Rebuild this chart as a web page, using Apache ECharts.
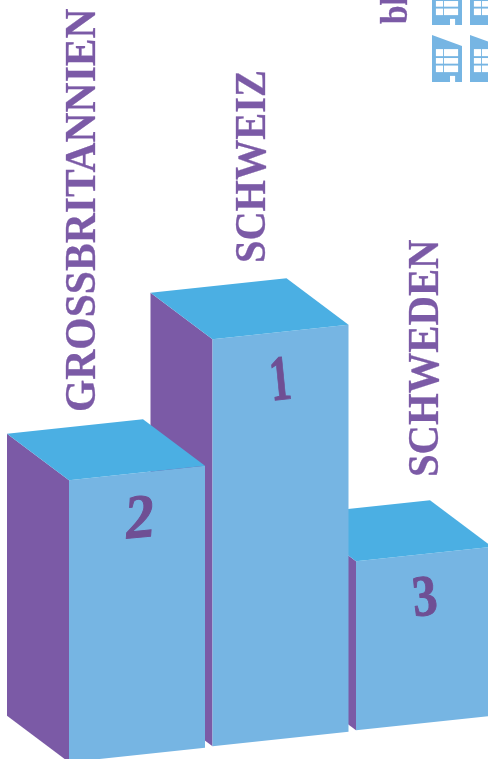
<!DOCTYPE html>
<html>
<head>
<meta charset="utf-8">
<style>html,body{margin:0;padding:0;background:#fff;overflow:hidden}#chart{width:488px;height:759px}</style>
<script src="https://cdn.jsdelivr.net/npm/echarts@6/dist/echarts.min.js"></script>
</head>
<body>
<div id="chart"></div>
<script>
// Podium values
const countries = ['GROSSBRITANNIEN', 'SCHWEIZ', 'SCHWEDEN'];
const heights = [282, 407, 169];
const ranks = ['2', '1', '3'];
const paintOrder = [2, 1, 0];

// Building pictogram rows, counted in whole icons
const iconsPerRow = [2, 2];

const SIDE = '#7b5aa6', FRONT = '#76b5e3', TOP = '#4bafe3', RANK = '#6f4f94';
const SERIF = '"Liberation Serif", serif';

// Oblique projection of the boxes
const barWidth = 136, depthX = 62, depthY = 46.5, edgeSlope = 14.5 / 136, floorRise = 16 / 144;

// Caption and numeral placement relative to each box's front-top centre
const captionOffset = [[-76.5, -61], [-49.5, -69], [-20.5, -77]];
const captionStretch = [0.924, 0.897, 0.905];
const rankOffset = [[3, 48], [0, 51], [1, 46]];
const rankSize = [62, 64, 58];
const rankStretch = [0.95, 0.66, 0.85];

function renderBox(params, api) {
  const i = api.value(0);
  const top = api.coord([i, api.value(1)]);
  const base = api.coord([i, 0]);
  const cx = top[0];
  const shift = (281 - cx) * floorRise;
  const x0 = cx - barWidth / 2, x1 = cx + barWidth / 2;
  const h = base[1] - top[1];
  const tl = [x0, top[1] + shift + barWidth / 2 * edgeSlope];
  const tr = [x1, top[1] + shift - barWidth / 2 * edgeSlope];
  const bl = [tl[0], tl[1] + h];
  const br = [tr[0], tr[1] + h];
  const back = p => [p[0] - depthX, p[1] - depthY];
  const poly = (points, fill) => ({ type: 'polygon', shape: { points }, style: { fill } });
  const cap = captionOffset[i], num = rankOffset[i];
  const midY = (tl[1] + tr[1]) / 2;
  return {
    type: 'group',
    children: [
      poly([tl, bl, back(bl), back(tl)], SIDE),
      poly([tl, tr, br, bl], FRONT),
      poly([tl, tr, back(tr), back(tl)], TOP),
      {
        type: 'text', x: cx + cap[0], y: midY + cap[1], rotation: Math.PI / 2, scaleX: captionStretch[i],
        style: {
          text: countries[i], fill: SIDE, stroke: SIDE, lineWidth: 0.3,
          font: 'bold 45px ' + SERIF, align: 'left', verticalAlign: 'top'
        }
      },
      {
        type: 'text', x: cx + num[0], y: midY + num[1], rotation: 0.1, scaleX: rankStretch[i],
        style: {
          text: ranks[i], fill: RANK, stroke: RANK, lineWidth: 1, align: 'center', verticalAlign: 'middle',
          font: (i === 0 ? 'italic ' : '') + 'bold ' + rankSize[i] + 'px ' + SERIF
        }
      }
    ]
  };
}

function renderBuilding(params, api) {
  const p = api.coord([api.value(0), api.value(1)]);
  const u = api.size([1, 1]);
  const w = u[0] * 30 / 38, H = u[1] * 47 / 57;
  const x = p[0], y = p[1];
  const rect = (a, b, c, d, fill) => ({ type: 'rect', shape: { x: x + a * w, y: y - b * H, width: (c - a) * w, height: (b - d) * H }, style: { fill } });
  const winX = [[0.13, 0.37], [0.40, 0.87]];
  const winY = [[0.70, 0.55], [0.51, 0.39], [0.35, 0.21]];
  const children = [{
    type: 'polygon',
    shape: { points: [[x, y], [x + w, y], [x + w, y - H * 36 / 47], [x, y - H]] },
    style: { fill: FRONT }
  }];
  winX.forEach(c => winY.forEach(r => children.push(rect(c[0], r[0], c[1], r[1], '#fff'))));
  children.push(rect(0.6, 0.13, 0.77, 0, '#fff'));
  return { type: 'group', children };
}

const buildingCells = [];
iconsPerRow.forEach((n, row) => { for (let col = 0; col < n; col++) buildingCells.push([col, row]); });

const chart = echarts.init(document.getElementById('chart'), null, { renderer: 'canvas' });
chart.setOption({
  animation: false,
  backgroundColor: '#fff',
  grid: [
    { left: 65.25, top: 0, width: 430.5, height: 739, outerBoundsMode: 'none' },
    { left: 432, top: -32, width: 76, height: 114, outerBoundsMode: 'none' }
  ],
  xAxis: [
    { type: 'category', data: countries, gridIndex: 0, show: false },
    { type: 'value', min: 0, max: 2, gridIndex: 1, show: false }
  ],
  yAxis: [
    { type: 'value', min: 0, max: 739, gridIndex: 0, show: false },
    { type: 'value', min: 0, max: 2, gridIndex: 1, show: false }
  ],
  series: [
    {
      type: 'custom', xAxisIndex: 0, yAxisIndex: 0, clip: false, renderItem: renderBox,
      data: paintOrder.map(i => [i, heights[i]])
    },
    {
      type: 'custom', xAxisIndex: 1, yAxisIndex: 1, clip: false, renderItem: renderBuilding,
      data: buildingCells
    }
  ],
  graphic: [{
    type: 'text', x: 379, y: 24, rotation: Math.PI / 2, scaleX: 0.9,
    style: { text: 'bl', fill: SIDE, stroke: SIDE, lineWidth: 0.3, font: 'bold 37px ' + SERIF, align: 'left', verticalAlign: 'top' }
  }]
});
</script>
</body>
</html>
